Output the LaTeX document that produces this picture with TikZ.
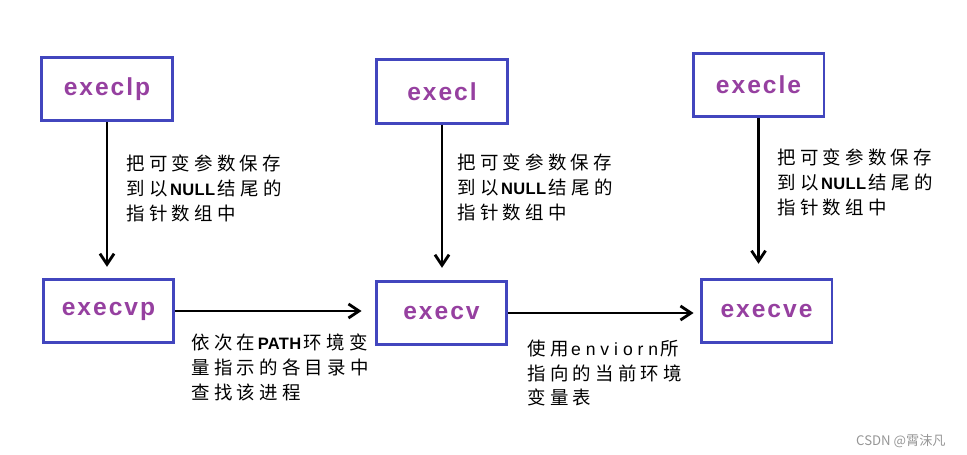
\documentclass[tikz,border=0pt]{standalone}
\usepackage{fontspec}
\usepackage{xcolor}
\usetikzlibrary{arrows.meta,positioning}
\newfontfamily\cjk[LetterSpace=23]{Noto Sans CJK SC}
\newfontfamily\boxfont[LetterSpace=8]{Liberation Sans}
\newfontfamily\latinbold[LetterSpace=2]{Liberation Sans}
\newfontfamily\latinspaced[LetterSpace=28]{Liberation Sans}
\newfontfamily\markfont{Noto Sans CJK SC}
\newcommand{\bw}[1]{\kern1.5pt{\latinbold\bfseries\fontsize{9.4}{14.2}\selectfont#1}\kern1.5pt}
\newcommand{\sw}[1]{\kern1.5pt{\latinspaced\fontsize{10}{14.2}\selectfont#1}\kern1pt}
\definecolor{BoxBlue}{RGB}{66,70,190}
\definecolor{FuncPurple}{RGB}{150,64,160}
\definecolor{MarkGray}{RGB}{150,150,150}

\begin{document}
\begin{tikzpicture}[x=0.02cm,y=-0.02cm,
    func/.style={draw=BoxBlue,line width=1.7pt,minimum width=2.62cm,minimum height=1.27cm,
      font=\boxfont\bfseries\fontsize{14}{14}\selectfont,text=FuncPurple},
    arr/.style={-{Straight Barb[length=6pt,width=8pt]},line width=1.6pt},
    note/.style={font=\cjk\fontsize{10.5}{14.2}\selectfont,align=left,anchor=west,inner sep=0pt}]
  \useasboundingbox (0,0) rectangle (967,455);
  \node[func] (execlp) at (107,89) {execlp};
  \node[func] (execl) at (442,91.5) {execl};
  \node[func] (execle) at (758.5,85) {execle};
  \node[func] (execvp) at (108.5,311) {execvp};
  \node[func] (execv) at (441.5,313) {execv};
  \node[func] (execve) at (766.5,311) {execve};
  \draw[arr,shorten >=11*0.02cm] (execlp.south) -- (execlp.south |- execvp.north);
  \draw[arr,shorten >=12*0.02cm] (execl.south) -- (execl.south |- execv.north);
  \draw[arr,shorten >=14*0.02cm] (execle.south) -- (execle.south |- execve.north);
  \draw[arr,shorten >=13*0.02cm] (execvp.east) -- (execvp.east -| execv.west);
  \draw[arr,shorten >=6*0.02cm] (execv.east) -- (execv.east -| execve.west);
  \node[note] (save1) at (126,188) {把可变参数保存\\到以\bw{NULL}结尾的\\指针数组中};
  \node[note] (save2) at (457,187) {把可变参数保存\\到以\bw{NULL}结尾的\\指针数组中};
  \node[note] (save3) at (777,182) {把可变参数保存\\到以\bw{NULL}结尾的\\指针数组中};
  \node[note] (path) at (191,367) {依次在\bw{PATH}环境变\\量指示的各目录中\\查找该进程};
  \node[note] (env) at (527,373) {使用\sw{enviorn}所\\指向的当前环境\\变量表};
  \node[font=\markfont\fontsize{7.5}{8}\selectfont,text=MarkGray,anchor=east,inner sep=0pt] (mark) at (946,441) {CSDN @霄沫凡};
\end{tikzpicture}
\end{document}
